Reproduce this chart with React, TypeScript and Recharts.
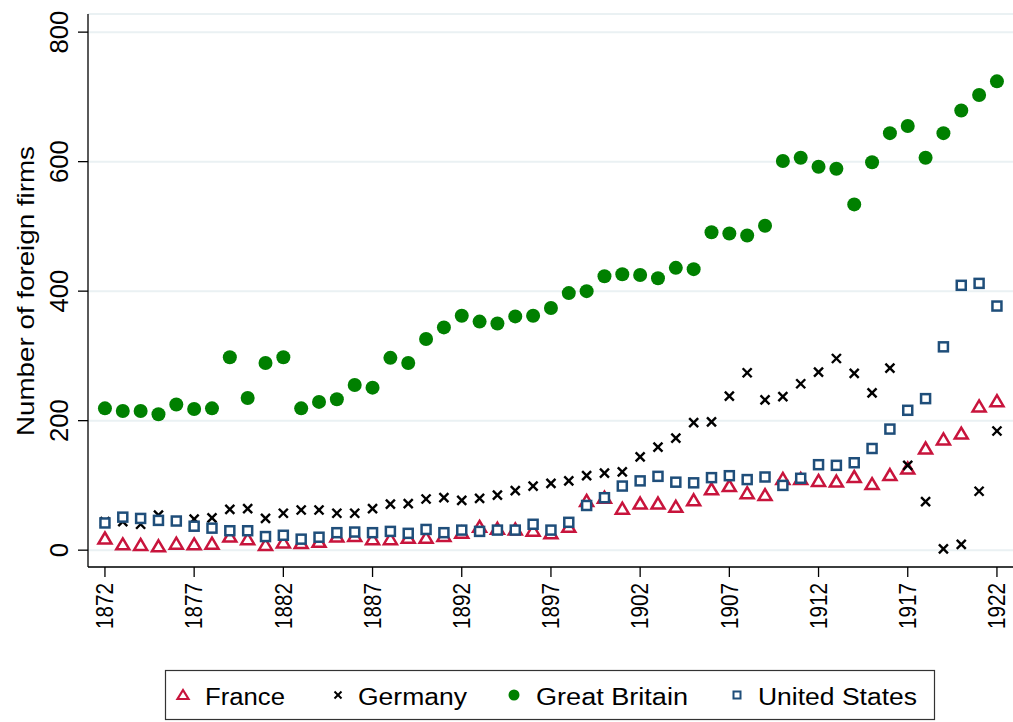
import React from "react";
import {
  ScatterChart,
  Scatter,
  XAxis,
  YAxis,
  CartesianGrid,
} from "recharts";

// years 1872..1922
const years = [
  1872, 1873, 1874, 1875, 1876, 1877, 1878, 1879, 1880, 1881, 1882, 1883,
  1884, 1885, 1886, 1887, 1888, 1889, 1890, 1891, 1892, 1893, 1894, 1895,
  1896, 1897, 1898, 1899, 1900, 1901, 1902, 1903, 1904, 1905, 1906, 1907,
  1908, 1909, 1910, 1911, 1912, 1913, 1914, 1915, 1916, 1917, 1918, 1919,
  1920, 1921, 1922,
];

const france = [
  18, 9, 8, 6, 10, 9, 10, 21, 17, 8, 12, 11, 13, 21, 22, 17, 17, 19, 19, 22,
  27, 36, 33, 32, 30, 26, 36, 76, 81, 64, 72, 72, 67, 77, 94, 99, 88, 85, 110,
  110, 107, 106, 113, 102, 116, 126, 157, 171, 180, 222, 230,
];

const germany = [
  44, 44, 40, 54, 45, 48, 50, 63, 64, 49, 57, 62, 62, 57, 57, 64, 71, 72, 79,
  81, 77, 80, 85, 92, 99, 103, 107, 115, 119, 121, 144, 159, 173, 197, 198,
  238, 274, 232, 237, 257, 275, 296, 273, 243, 281, 131, 75, 2, 9, 91, 184,
];

const britain = [
  219, 215, 215, 210, 225, 218, 219, 298, 235, 289, 298, 219, 229, 233, 255,
  251, 297, 289, 326, 344, 362, 353, 350, 361, 362, 374, 397, 400, 423, 426,
  425, 420, 436, 434, 491, 489, 486, 501, 601, 606, 592, 589, 534, 599, 644,
  655, 606, 644, 679, 703, 724,
];

const unitedStates = [
  42, 51, 49, 46, 45, 37, 34, 30, 30, 21, 23, 17, 20, 27, 28, 27, 29, 26, 32,
  27, 31, 29, 31, 31, 40, 31, 43, 69, 81, 99, 107, 114, 105, 104, 112, 115,
  109, 113, 100, 111, 132, 131, 135, 157, 187, 216, 234, 314, 409, 412, 377,
];

const xTicks = [1872, 1877, 1882, 1887, 1892, 1897, 1902, 1907, 1912, 1917, 1922];
const yTicks = [0, 200, 400, 600, 800];

const FONT = "'Liberation Sans', Arial, Helvetica, sans-serif";
const RED = "#c8143c";
const GREEN = "#008000";
const NAVY = "#1f4e7a";

const toRows = (vals: number[]) => years.map((y, i) => ({ year: y, value: vals[i] }));

const Triangle = (props: any) => {
  const { cx, cy } = props;
  if (cx == null || cy == null) return null;
  return (
    <polygon
      points={`${cx},${cy - 6} ${cx + 6.5},${cy + 5} ${cx - 6.5},${cy + 5}`}
      fill="#fff"
      stroke={RED}
      strokeWidth={2.5}
    />
  );
};

const Cross = (props: any) => {
  const { cx, cy } = props;
  if (cx == null || cy == null) return null;
  const s = 4.5;
  return (
    <g stroke="#000" strokeWidth={2.4}>
      <line x1={cx - s} y1={cy - s} x2={cx + s} y2={cy + s} />
      <line x1={cx - s} y1={cy + s} x2={cx + s} y2={cy - s} />
    </g>
  );
};

const Dot = (props: any) => {
  const { cx, cy } = props;
  if (cx == null || cy == null) return null;
  return <circle cx={cx} cy={cy} r={7} fill={GREEN} />;
};

const Square = (props: any) => {
  const { cx, cy } = props;
  if (cx == null || cy == null) return null;
  return (
    <rect
      x={cx - 4.5}
      y={cy - 4.5}
      width={9}
      height={9}
      fill="#fff"
      stroke={NAVY}
      strokeWidth={2.5}
    />
  );
};

const YTick = (props: any) => {
  const { x, y, payload } = props;
  const tx = x - 8;
  const s = String(payload.value);
  return (
    <text
      x={tx}
      y={y}
      transform={`rotate(-90, ${tx}, ${y})`}
      textAnchor="middle"
      fontSize={25}
      fontFamily={FONT}
      fill="#000"
      textLength={s.length * 14.3}
      lengthAdjust="spacingAndGlyphs"
    >
      {s}
    </text>
  );
};

const XTick = (props: any) => {
  const { x, y, payload } = props;
  const tx = x + 8.3;
  const ty = y + 4;
  return (
    <text
      x={tx}
      y={ty}
      transform={`rotate(-90, ${tx}, ${ty})`}
      textAnchor="end"
      fontSize={23}
      fontFamily={FONT}
      fill="#000"
      textLength={46}
      lengthAdjust="spacingAndGlyphs"
    >
      {payload.value}
    </text>
  );
};

const YLabel = () => (
  <text
    x={34}
    y={291}
    transform="rotate(-90, 34, 291)"
    textAnchor="middle"
    fontSize={24}
    fontFamily={FONT}
    fill="#000"
    textLength={290}
    lengthAdjust="spacingAndGlyphs"
  >
    Number of foreign firms
  </text>
);

// legend entries: label, text start, text width, marker centre
const legendItems = [
  { name: "France", shape: "tri", mx: 183, tx: 205, tw: 80 },
  { name: "Germany", shape: "x", mx: 338, tx: 358, tw: 109 },
  { name: "Great Britain", shape: "dot", mx: 514, tx: 536, tw: 152 },
  { name: "United States", shape: "sq", mx: 737, tx: 758, tw: 159 },
];

const LegendMark = ({ shape, x, y }: { shape: string; x: number; y: number }) => {
  if (shape === "tri")
    return (
      <polygon
        points={`${x},${y - 5} ${x + 5.5},${y + 4} ${x - 5.5},${y + 4}`}
        fill="#fff"
        stroke={RED}
        strokeWidth={2.2}
      />
    );
  if (shape === "x")
    return (
      <g stroke="#000" strokeWidth={2}>
        <line x1={x - 3.5} y1={y - 3.5} x2={x + 3.5} y2={y + 3.5} />
        <line x1={x - 3.5} y1={y + 3.5} x2={x + 3.5} y2={y - 3.5} />
      </g>
    );
  if (shape === "dot") return <circle cx={x} cy={y} r={5.5} fill={GREEN} />;
  return (
    <rect x={x - 3.5} y={y - 3.5} width={7} height={7} fill="#fff" stroke={NAVY} strokeWidth={2} />
  );
};

export default function App() {
  return (
    <div style={{ position: "absolute", left: 0, top: 0, width: 1013, height: 722, background: "#fff" }}>
      <ScatterChart
        width={1013}
        height={722}
        margin={{ top: 14, right: 0, bottom: 0, left: 0 }}
      >
        <CartesianGrid vertical={false} stroke="#eaf1f3" strokeWidth={2} />
        <XAxis
          type="number"
          dataKey="year"
          domain={[1871.05, 1922.9]}
          ticks={xTicks}
          allowDataOverflow
          height={155}
          tick={<XTick />}
          tickSize={10}
          tickLine={{ stroke: "#000", strokeWidth: 1.3 }}
          axisLine={{ stroke: "#000", strokeWidth: 1.3 }}
        />
        <YAxis
          type="number"
          dataKey="value"
          domain={[-26, 828]}
          ticks={yTicks}
          allowDataOverflow
          width={88}
          tick={<YTick />}
          tickSize={10}
          tickLine={{ stroke: "#000", strokeWidth: 1.3 }}
          axisLine={{ stroke: "#000", strokeWidth: 1.3 }}
        />
        <Scatter name="France" data={toRows(france)} shape={<Triangle />} isAnimationActive={false} />
        <Scatter name="Germany" data={toRows(germany)} shape={<Cross />} isAnimationActive={false} />
        <Scatter name="Great Britain" data={toRows(britain)} shape={<Dot />} isAnimationActive={false} />
        <Scatter name="United States" data={toRows(unitedStates)} shape={<Square />} isAnimationActive={false} />
      </ScatterChart>
      <svg
        width={1013}
        height={722}
        style={{ position: "absolute", left: 0, top: 0, pointerEvents: "none" }}
      >
        <YLabel />
        <rect x={165.5} y={670.5} width={769} height={49} fill="none" stroke="#333" strokeWidth={1.2} />
        {legendItems.map((it) => (
          <g key={it.name}>
            <LegendMark shape={it.shape} x={it.mx} y={695} />
            <text
              x={it.tx}
              y={705}
              fontSize={23}
              fontFamily={FONT}
              fill="#000"
              textLength={it.tw}
              lengthAdjust="spacingAndGlyphs"
            >
              {it.name}
            </text>
          </g>
        ))}
      </svg>
    </div>
  );
}
